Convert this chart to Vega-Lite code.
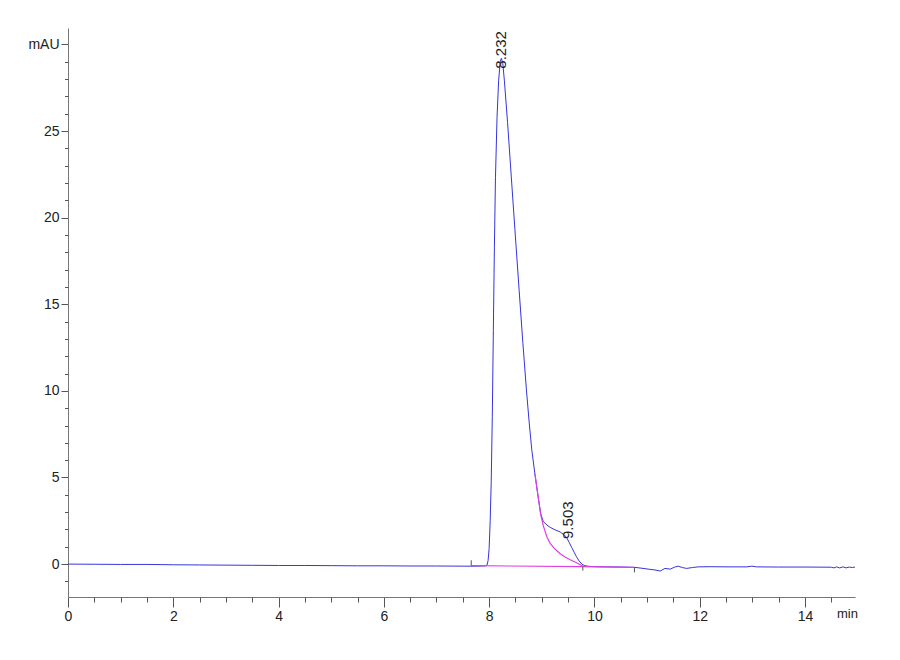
{
  "$schema": "https://vega.github.io/schema/vega-lite/v6.json",
  "width": 787,
  "height": 569,
  "autosize": "none",
  "padding": {"left": 68, "top": 28, "right": 45, "bottom": 63},
  "background": "white",
  "config": {
    "font": "Liberation Sans",
    "view": {"stroke": null},
    "axis": {
      "grid": false,
      "labelFont": "Liberation Sans",
      "labelColor": "#222222",
      "labelFontSize": 14,
      "tickColor": "#555555",
      "tickWidth": 1,
      "domainColor": "#777777",
      "domainWidth": 1,
      "labelOverlap": false,
      "labelFlush": false
    }
  },
  "datasets": {
    "signal": [
      {"t": 0, "v": 0.0}, {"t": 0.5, "v": -0.01}, {"t": 1, "v": -0.02}, {"t": 1.5, "v": -0.02},
      {"t": 2, "v": -0.04}, {"t": 2.5, "v": -0.05}, {"t": 3, "v": -0.06}, {"t": 3.5, "v": -0.07},
      {"t": 4, "v": -0.08}, {"t": 4.5, "v": -0.08}, {"t": 5, "v": -0.09}, {"t": 5.5, "v": -0.1},
      {"t": 6, "v": -0.1}, {"t": 6.5, "v": -0.11}, {"t": 7, "v": -0.11}, {"t": 7.5, "v": -0.12},
      {"t": 7.8, "v": -0.12}, {"t": 7.93, "v": -0.1}, {"t": 7.96, "v": -0.05}, {"t": 7.98, "v": 0.2},
      {"t": 8.0, "v": 0.9}, {"t": 8.02, "v": 2.5}, {"t": 8.04, "v": 4.8}, {"t": 8.06, "v": 8.5},
      {"t": 8.08, "v": 13.5}, {"t": 8.1, "v": 18.3}, {"t": 8.12, "v": 22.3}, {"t": 8.15, "v": 25.8},
      {"t": 8.18, "v": 27.9}, {"t": 8.21, "v": 29.0}, {"t": 8.232, "v": 29.2}, {"t": 8.26, "v": 28.9},
      {"t": 8.29, "v": 27.9}, {"t": 8.35, "v": 25.5}, {"t": 8.42, "v": 22.4}, {"t": 8.49, "v": 19.3},
      {"t": 8.57, "v": 15.8}, {"t": 8.64, "v": 12.8}, {"t": 8.71, "v": 10.0}, {"t": 8.76, "v": 8.2},
      {"t": 8.81, "v": 6.6}, {"t": 8.87, "v": 5.2}, {"t": 8.93, "v": 3.9}, {"t": 8.98, "v": 2.9},
      {"t": 9.03, "v": 2.45}, {"t": 9.1, "v": 2.25}, {"t": 9.16, "v": 2.12}, {"t": 9.25, "v": 1.98},
      {"t": 9.35, "v": 1.85}, {"t": 9.42, "v": 1.7}, {"t": 9.47, "v": 1.55}, {"t": 9.52, "v": 1.25},
      {"t": 9.57, "v": 0.95}, {"t": 9.62, "v": 0.65}, {"t": 9.66, "v": 0.42}, {"t": 9.71, "v": 0.18},
      {"t": 9.76, "v": 0.0}, {"t": 9.82, "v": -0.1}, {"t": 9.9, "v": -0.13}, {"t": 10.0, "v": -0.15},
      {"t": 10.25, "v": -0.16}, {"t": 10.5, "v": -0.17}, {"t": 10.77, "v": -0.19}, {"t": 10.9, "v": -0.24},
      {"t": 11.02, "v": -0.29}, {"t": 11.15, "v": -0.34}, {"t": 11.25, "v": -0.4}, {"t": 11.34, "v": -0.25},
      {"t": 11.44, "v": -0.29}, {"t": 11.52, "v": -0.18}, {"t": 11.59, "v": -0.12}, {"t": 11.67, "v": -0.2},
      {"t": 11.75, "v": -0.25}, {"t": 11.86, "v": -0.2}, {"t": 11.97, "v": -0.16}, {"t": 12.2, "v": -0.15},
      {"t": 12.5, "v": -0.16}, {"t": 12.9, "v": -0.16}, {"t": 12.99, "v": -0.12}, {"t": 13.08, "v": -0.16},
      {"t": 13.5, "v": -0.17}, {"t": 14.0, "v": -0.17}, {"t": 14.5, "v": -0.18}, {"t": 14.55, "v": -0.22},
      {"t": 14.6, "v": -0.16}, {"t": 14.66, "v": -0.22}, {"t": 14.72, "v": -0.16}, {"t": 14.78, "v": -0.22},
      {"t": 14.84, "v": -0.17}, {"t": 14.9, "v": -0.2}, {"t": 14.95, "v": -0.17}
    ],
    "fit": [
      {"seg": "tail", "t": 8.87, "v": 5.2}, {"seg": "tail", "t": 8.93, "v": 3.9},
      {"seg": "tail", "t": 8.98, "v": 2.85}, {"seg": "tail", "t": 9.03, "v": 2.2},
      {"seg": "tail", "t": 9.1, "v": 1.55}, {"seg": "tail", "t": 9.16, "v": 1.2},
      {"seg": "tail", "t": 9.25, "v": 0.87}, {"seg": "tail", "t": 9.35, "v": 0.6},
      {"seg": "tail", "t": 9.45, "v": 0.4}, {"seg": "tail", "t": 9.54, "v": 0.25},
      {"seg": "tail", "t": 9.66, "v": 0.08}, {"seg": "tail", "t": 9.78, "v": -0.13},
      {"seg": "base1", "t": 7.66, "v": -0.09}, {"seg": "base1", "t": 9.78, "v": -0.15},
      {"seg": "base2", "t": 9.78, "v": -0.15}, {"seg": "base2", "t": 10.76, "v": -0.19}
    ],
    "marks": [
      {"t": 7.66, "v": -0.09, "v2": 0.22},
      {"t": 9.78, "v": -0.12, "v2": -0.38},
      {"t": 10.76, "v": -0.17, "v2": -0.48}
    ],
    "peaks": [
      {"t": 8.232, "v": 28.6, "label": "8.232"},
      {"t": 9.503, "v": 1.45, "label": "9.503"}
    ]
  },
  "resolve": {"axis": {"x": "independent", "y": "independent"}},
  "layer": [
    {
      "data": {"name": "signal"},
      "mark": {"type": "line", "color": "#3434dc", "strokeWidth": 1, "interpolate": "linear"},
      "encoding": {
        "x": {
          "field": "t", "type": "quantitative",
          "scale": {"domain": [0, 14.95], "nice": false, "zero": false},
          "axis": {
            "orient": "bottom",
            "values": [0, 2, 4, 6, 8, 10, 12, 14],
            "tickSize": 10,
            "labelPadding": 2,
            "title": "min",
            "titleX": 779,
            "titleY": 10,
            "titleAlign": "center",
            "titleBaseline": "top",
            "titleFont": "Liberation Sans",
            "titleFontSize": 13,
            "titleFontWeight": "normal",
            "titleColor": "#222222"
          }
        },
        "y": {
          "field": "v", "type": "quantitative",
          "scale": {"domain": [-1.9, 30.95], "nice": false, "zero": false},
          "axis": {
            "orient": "left",
            "values": [0, 5, 10, 15, 20, 25, 30],
            "tickSize": 7,
            "labelPadding": 2,
            "labelExpr": "datum.value == 30 ? 'mAU' : datum.label",
            "title": null
          }
        }
      }
    },
    {
      "data": {"name": "fit"},
      "mark": {"type": "line", "color": "#e040e0", "strokeWidth": 1.2},
      "encoding": {
        "x": {
          "field": "t", "type": "quantitative",
          "axis": {
            "orient": "bottom",
            "values": [0.5, 1, 1.5, 2.5, 3, 3.5, 4.5, 5, 5.5, 6.5, 7, 7.5, 8.5, 9, 9.5, 10.5, 11, 11.5, 12.5, 13, 13.5, 14.5],
            "tickSize": 5,
            "labels": false,
            "domain": false,
            "title": null
          }
        },
        "y": {
          "field": "v", "type": "quantitative",
          "axis": {
            "orient": "left",
            "values": [-1, 1, 2, 3, 4, 6, 7, 8, 9, 11, 12, 13, 14, 16, 17, 18, 19, 21, 22, 23, 24, 26, 27, 28, 29],
            "tickSize": 3.5,
            "labels": false,
            "domain": false,
            "title": null
          }
        },
        "detail": {"field": "seg", "type": "nominal"}
      }
    },
    {
      "data": {"name": "marks"},
      "mark": {"type": "rule", "color": "#555555", "strokeWidth": 1},
      "encoding": {
        "x": {"field": "t", "type": "quantitative", "axis": null},
        "y": {"field": "v", "type": "quantitative", "axis": null},
        "y2": {"field": "v2"}
      }
    },
    {
      "data": {"name": "peaks"},
      "mark": {"type": "text", "angle": 270, "align": "left", "baseline": "middle", "fontSize": 15, "color": "#222222", "font": "Liberation Sans"},
      "encoding": {
        "x": {"field": "t", "type": "quantitative", "axis": null},
        "y": {"field": "v", "type": "quantitative", "axis": null},
        "text": {"field": "label"}
      }
    }
  ]
}
